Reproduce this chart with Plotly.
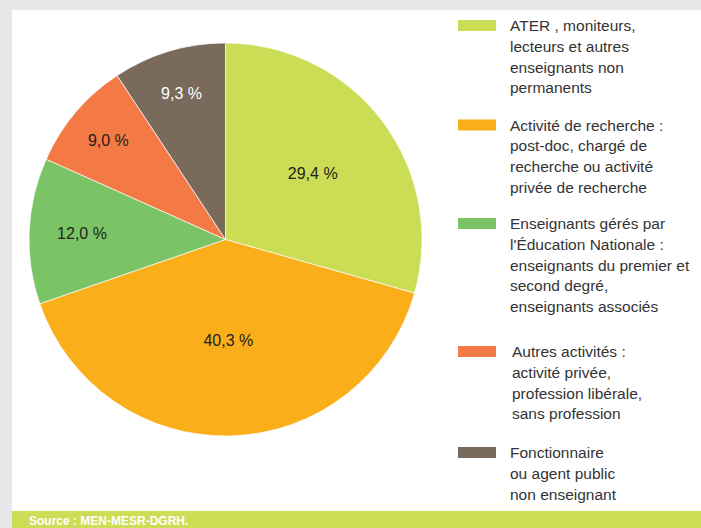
import plotly.graph_objects as go

# ---- data ----
categories = [
    "ATER , moniteurs,<br>lecteurs et autres<br>enseignants non<br>permanents",
    "Activité de recherche :<br>post-doc, chargé de<br>recherche ou activité<br>privée de recherche",
    "Enseignants gérés par<br>l'Éducation Nationale :<br>enseignants du premier et<br>second degré,<br>enseignants associés",
    "Autres activités :<br>activité privée,<br>profession libérale,<br>sans profession",
    "Fonctionnaire<br>ou agent public<br>non enseignant",
]
values = [29.4, 40.3, 12.0, 9.0, 9.3]
colors = ["#cbdd55", "#f9ae1a", "#7ac466", "#f47a45", "#7a6a5c"]
text_colors = ["#231f20", "#231f20", "#231f20", "#231f20", "#ffffff"]
source_text = "Source : MEN-MESR-DGRH."

W, H = 701, 528
FONT = "Liberation Sans, Arial, sans-serif"

labels_txt = [f"{v:.1f}".replace(".", ",") + " %" for v in values]

fig = go.Figure()
cx, cy, r = 225.5, 239.5, 196.5
fig.add_trace(go.Pie(
    values=values,
    labels=[c.split("<br>")[0] for c in categories],
    text=labels_txt,
    textinfo="text",
    textposition="inside",
    insidetextorientation="horizontal",
    textfont=dict(family=FONT, size=16, color=text_colors),
    marker=dict(colors=colors, line=dict(color="white", width=0.7)),
    sort=False,
    direction="clockwise",
    rotation=0,
    showlegend=False,
    hoverinfo="label+text",
    domain=dict(x=[(cx - r) / W, (cx + r) / W], y=[(H - cy - r) / H, (H - cy + r) / H]),
))

def px(x):
    return x / W

def py(y):
    return 1 - y / H

shapes = [
    dict(type="rect", xref="paper", yref="paper", x0=px(12), x1=1, y0=py(511), y1=py(10),
         fillcolor="white", line=dict(width=0), layer="below"),
    dict(type="rect", xref="paper", yref="paper", x0=px(12), x1=1, y0=0, y1=py(511),
         fillcolor="#cddd55", line=dict(width=0), layer="below"),
]
annotations = []

# legend layout
leg_rect_y = [25.5, 125, 223.5, 351.5, 452.5]
leg_text_x = [508, 508, 508, 510, 508]
line_gap = 20.8
for i, cat in enumerate(categories):
    yc = leg_rect_y[i]
    shapes.append(dict(type="rect", xref="paper", yref="paper",
                       x0=px(458), x1=px(496), y0=py(yc + 5.5), y1=py(yc - 5.5),
                       fillcolor=colors[i], line=dict(width=0)))
    for j, line in enumerate(cat.split("<br>")):
        annotations.append(dict(
            xref="paper", yref="paper", x=px(leg_text_x[i]), y=py(yc + j * line_gap),
            xanchor="left", yanchor="middle", showarrow=False, text=line,
            font=dict(family=FONT, size=15.5, color="#333333"),
        ))

annotations.append(dict(
    xref="paper", yref="paper", x=px(27), y=py(521), xanchor="left", yanchor="middle",
    showarrow=False, text="<b>" + source_text + "</b>",
    font=dict(family=FONT, size=12, color="white"),
))

fig.update_layout(
    width=W, height=H,
    margin=dict(l=0, r=0, t=0, b=0),
    paper_bgcolor="#e6e7e8",
    plot_bgcolor="white",
    shapes=shapes,
    annotations=annotations,
)

fig.write_html(
    "out.html",
    config={"displayModeBar": False},
    post_script="document.body.style.margin='0';document.body.style.overflow='hidden';",
)
